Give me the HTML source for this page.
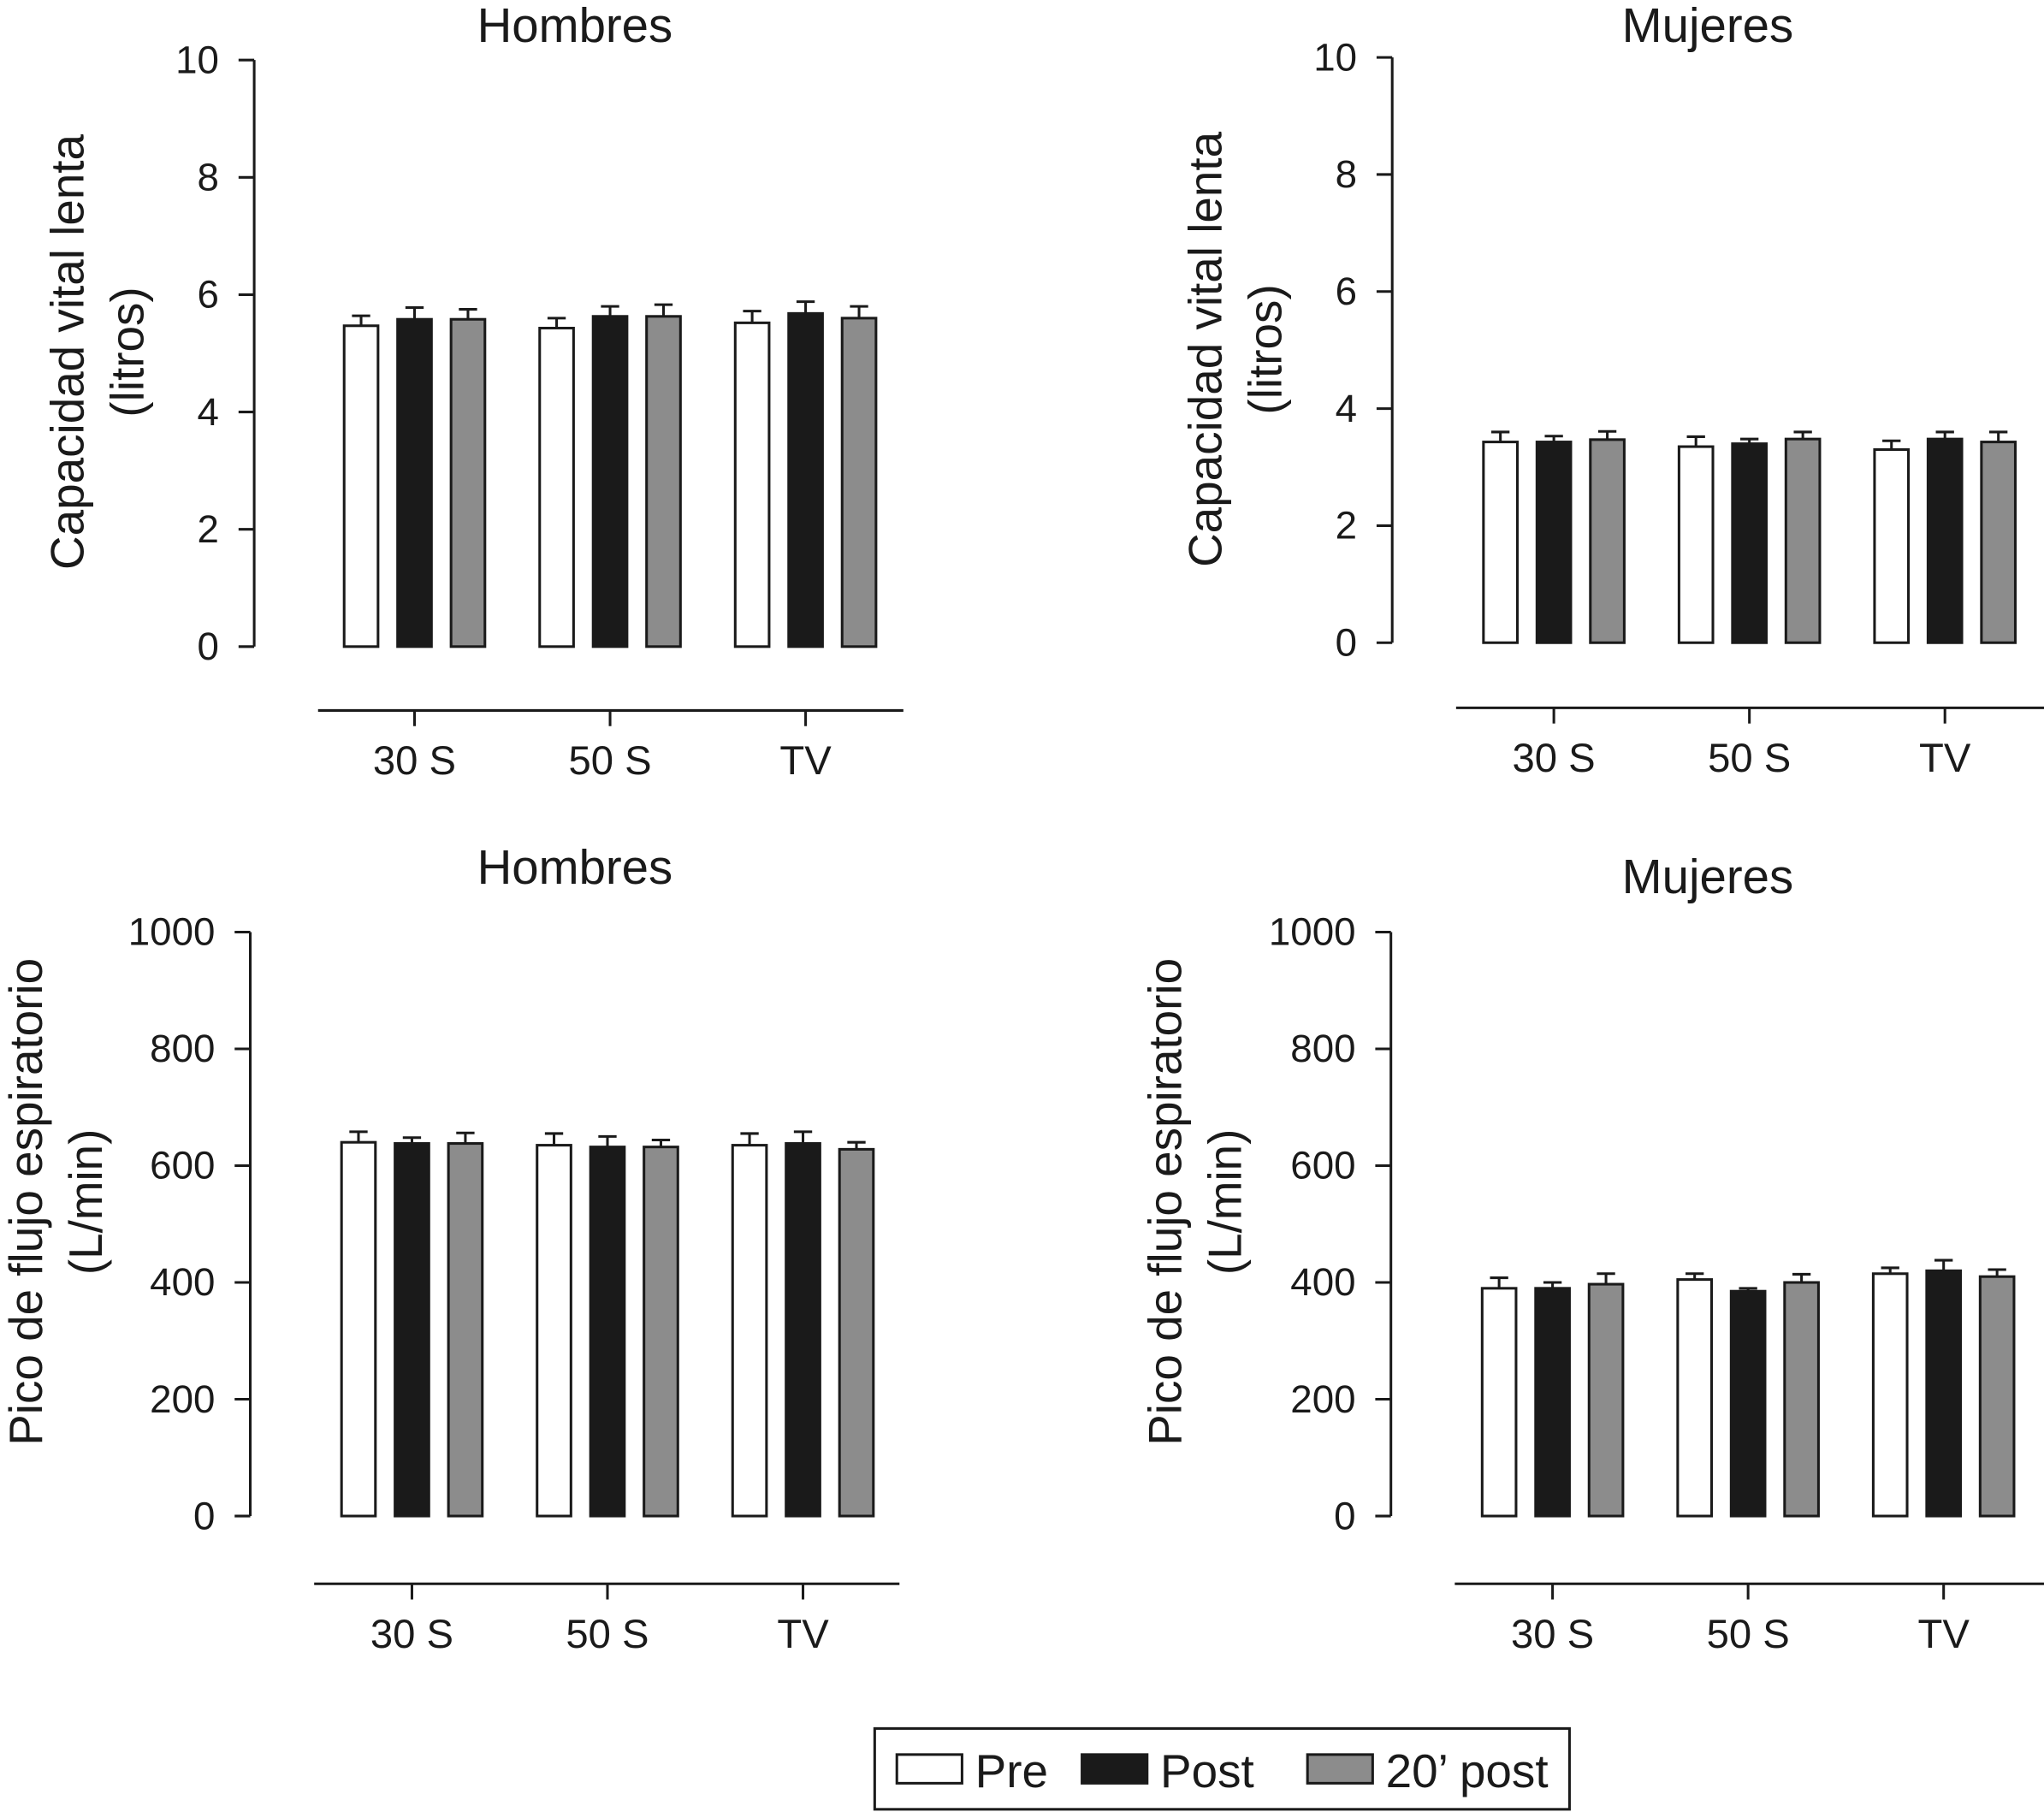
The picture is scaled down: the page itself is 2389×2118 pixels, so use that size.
<!DOCTYPE html>
<html><head><meta charset="utf-8">
<style>
html,body{margin:0;padding:0;background:#fff;}
svg{display:block;}
text{font-family:"Liberation Sans",Arial,sans-serif;fill:#1a1a1a;}
</style></head>
<body>
<svg id="chart" width="2389" height="2118" viewBox="0 0 1568 1390" xmlns="http://www.w3.org/2000/svg"></svg>
<script>
const categories = ["30 S", "50 S", "TV"];
const seriesNames = ["Pre", "Post", "20\u2019 post"];
// Capacidad vital lenta (litros) - Hombres
const cvlMenPre = [5.47, 5.43, 5.52];
const cvlMenPost = [5.58, 5.63, 5.68];
const cvlMen20 = [5.58, 5.63, 5.6];
const cvlMenErr = [[0.17, 0.17, 0.2], [0.2, 0.17, 0.2], [0.17, 0.2, 0.2]];
// Capacidad vital lenta - Mujeres
const cvlWomPre = [3.43, 3.35, 3.3];
const cvlWomPost = [3.43, 3.4, 3.48];
const cvlWom20 = [3.47, 3.48, 3.43];
const cvlWomErr = [[0.17, 0.17, 0.15], [0.1, 0.08, 0.12], [0.14, 0.12, 0.17]];
// Pico de flujo espiratorio (L/min) - Hombres
const pfeMenPre = [640, 635, 635];
const pfeMenPost = [638, 632, 638];
const pfeMen20 = [638, 632, 628];
const pfeMenErr = [[18, 20, 20], [10, 18, 20], [18, 12, 12]];
// Pico de flujo espiratorio - Mujeres
const pfeWomPre = [390, 405, 415];
const pfeWomPost = [390, 385, 420];
const pfeWom20 = [397, 400, 410];
const pfeWomErr = [[18, 10, 10], [10, 5, 18], [18, 14, 12]];
const cvlTicks = [0, 2, 4, 6, 8, 10];
const pfeTicks = [0, 200, 400, 600, 800, 1000];

const NS = "http://www.w3.org/2000/svg";
const svg = document.getElementById("chart");
const fills = ["#ffffff", "#1a1a1a", "#8c8c8c"];
function mk(tag, attrs, parent) {
  const e = document.createElementNS(NS, tag);
  for (const k in attrs) e.setAttribute(k, attrs[k]);
  (parent || svg).appendChild(e);
  return e;
}
function panel(p) {
  const g = mk("g", {});
  
  
  const yMax = p.ticks[p.ticks.length - 1];
  const y = v => p.y0 - (v / yMax) * (p.y0 - p.yTop);
  const cx = i => p.c0 + i * 150;
  const t = mk("text", {x: p.titleX, y: p.titleY, "font-size": 37, "text-anchor": "middle"}, g);
  t.textContent = p.title;
  
  
  const ax = mk("line", {x1: p.ax, y1: y(0), x2: p.ax, y2: y(yMax), stroke: "#1a1a1a", "stroke-width": 2}, g);
  
  
  p.ticks.forEach(v => {
    mk("line", {x1: p.ax - 12, y1: y(v), x2: p.ax, y2: y(v), stroke: "#1a1a1a", "stroke-width": 2}, g);
    const tl = mk("text", {x: p.ax - 27, y: y(v) + 10, "font-size": 30, "text-anchor": "end"}, g);
    tl.textContent = v;
    
    
  });
  const yt = mk("text", {transform: `translate(${p.ytX},${p.ytY}) rotate(-90)`, "font-size": 36, "text-anchor": "middle"}, g);
  
  
  const s1 = mk("tspan", {x: 0, y: 0}, yt); s1.textContent = p.yt1;
  const s2 = mk("tspan", {x: 0, y: 46}, yt); s2.textContent = p.yt2;
  const xa = mk("line", {x1: p.xl, y1: p.xy, x2: p.xr, y2: p.xy, stroke: "#1a1a1a", "stroke-width": 2}, g);
  
  
  categories.forEach((c, i) => {
    mk("line", {x1: cx(i), y1: p.xy, x2: cx(i), y2: p.xy + 12, stroke: "#1a1a1a", "stroke-width": 2}, g);
    const xl = mk("text", {x: cx(i), y: p.xy + 49, "font-size": 31, "text-anchor": "middle"}, g);
    xl.textContent = c;
    
    
  });
  p.series.forEach((vals, s) => {
    vals.forEach((v, i) => {
      const bx = cx(i) - 54 + s * 41;
      const top = y(v);
      const err = p.err[s][i];
      const el = mk("line", {x1: bx + 13, y1: top, x2: bx + 13, y2: y(v + err), stroke: "#1a1a1a", "stroke-width": 2}, g);
      
      
      mk("line", {x1: bx + 6, y1: y(v + err), x2: bx + 20, y2: y(v + err), stroke: "#1a1a1a", "stroke-width": 2}, g);
      const r = mk("rect", {x: bx, y: top, width: 26, height: y(0) - top, fill: fills[s], stroke: "#1a1a1a", "stroke-width": 2}, g);
      
      
    });
  });
}
panel({name: "panel-cvl-hombres", title: "Hombres", titleX: 441, titleY: 32, ax: 195, y0: 496, yTop: 46, ticks: cvlTicks,
  ytX: 64, ytY: 270, yt1: "Capacidad vital lenta", yt2: "(litros)", xl: 244, xr: 693, xy: 545, c0: 318,
  series: [cvlMenPre, cvlMenPost, cvlMen20], err: cvlMenErr});
panel({name: "panel-cvl-mujeres", title: "Mujeres", titleX: 1310, titleY: 32, ax: 1068, y0: 493, yTop: 44, ticks: cvlTicks,
  ytX: 937, ytY: 268, yt1: "Capacidad vital lenta", yt2: "(litros)", xl: 1117, xr: 1568, xy: 543, c0: 1192,
  series: [cvlWomPre, cvlWomPost, cvlWom20], err: cvlWomErr});
panel({name: "panel-pfe-hombres", title: "Hombres", titleX: 441, titleY: 678, ax: 192, y0: 1163, yTop: 715, ticks: pfeTicks,
  ytX: 32, ytY: 922, yt1: "Pico de flujo espiratorio", yt2: "(L/min)", xl: 241, xr: 690, xy: 1215, c0: 316,
  series: [pfeMenPre, pfeMenPost, pfeMen20], err: pfeMenErr});
panel({name: "panel-pfe-mujeres", title: "Mujeres", titleX: 1310, titleY: 685, ax: 1067, y0: 1163, yTop: 715, ticks: pfeTicks,
  ytX: 906, ytY: 922, yt1: "Pico de flujo espiratorio", yt2: "(L/min)", xl: 1116, xr: 1568, xy: 1215, c0: 1191,
  series: [pfeWomPre, pfeWomPost, pfeWom20], err: pfeWomErr});

const lg = mk("g", {});


mk("rect", {x: 671, y: 1326, width: 533, height: 62, fill: "#fff", stroke: "#1a1a1a", "stroke-width": 2}, lg);
const legX = [688, 830, 1003];
seriesNames.forEach((n, s) => {
  const sw = mk("rect", {x: legX[s], y: 1346, width: 50, height: 22, fill: fills[s], stroke: "#1a1a1a", "stroke-width": 2}, lg);
  
  
  const lt = mk("text", {x: legX[s] + 60, y: 1371, "font-size": 36}, lg);
  lt.textContent = n;
  
  
});
</script>
</body></html>
